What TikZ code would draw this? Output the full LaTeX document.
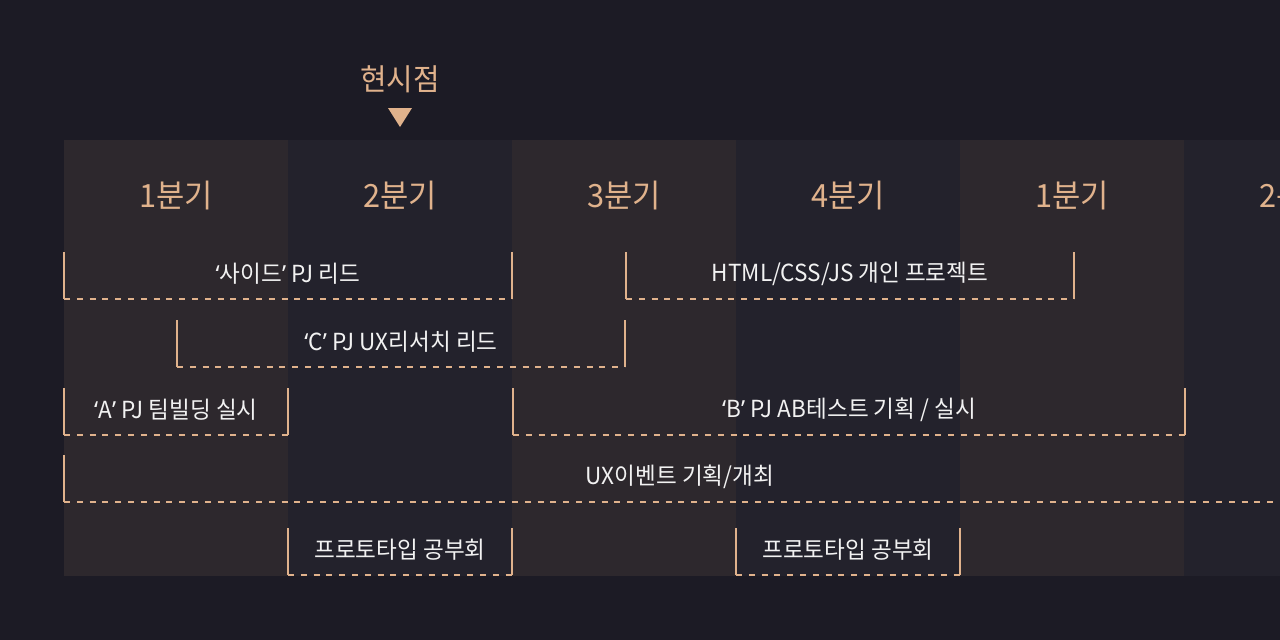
\documentclass[tikz,border=0pt]{standalone}
\usepackage{fontspec}
\newfontfamily\kr[FakeStretch=0.96]{Noto Sans CJK KR}
\newfontfamily\latq{Noto Sans}
\newcommand\oq{{\latq\char"2018}}
\newcommand\cq{{\latq\char"2019}}
\definecolor{bgc}{HTML}{1C1B25}
\definecolor{darkcol}{HTML}{23222C}
\definecolor{lightcol}{HTML}{2D282D}
\definecolor{peach}{HTML}{E0B28C}
\definecolor{txt}{HTML}{F2F2F2}
\tikzset{
  qlabel/.style={text=peach, inner sep=0pt, font=\kr\fontsize{32}{32}\selectfont},
  nowlabel/.style={text=peach, inner sep=0pt, font=\kr\fontsize{30}{30}\selectfont},
  barlabel/.style={text=txt, inner sep=0pt, font=\kr\fontsize{23.5}{24}\selectfont},
  solidedge/.style={draw=peach, line width=1.3pt},
  dashedge/.style={draw=peach, line width=1.3pt, dash pattern=on 6pt off 6.8pt},
}
\newcommand\barbox[6]{%
  \draw[solidedge] (#2,#4) -- (#2,#5);
  \draw[dashedge] (#2,#5) -- (#3,#5);
  \draw[solidedge] (#3,#4) -- (#3,#5);
  \node[barlabel] (#1) at ({(#2+#3)/2},{(#4+#5)/2-1.5}) {#6};
}
\begin{document}
\begin{tikzpicture}[x=1pt,y=-1pt]
\fill[bgc] (0,0) rectangle (1280,640);
\useasboundingbox (0,0) rectangle (1280,640);
% columns
\foreach \x in {64,512,960} \fill[lightcol] (\x,140) rectangle ++(224,436);
\foreach \x in {288,736,1184} \fill[darkcol] (\x,140) rectangle ++(224,436);
% now marker
\node[nowlabel] (now) at (400,79) {현시점};
\fill[peach] (388,108) -- (412,108) -- (400,127) -- cycle;
% quarter labels
\node[qlabel] (q1) at (176,196) {1분기};
\node[qlabel] (q2) at (400,196) {2분기};
\node[qlabel] (q3) at (624,196) {3분기};
\node[qlabel] (q4) at (848,196) {4분기};
\node[qlabel] (q5) at (1072,196) {1분기};
\node[qlabel] (q6) at (1296,196) {2분기};
% bars
\barbox{side}{64}{512}{252}{299}{\oq 사이드\cq{} PJ 리드}
\barbox{html}{626}{1074}{252}{299}{HTML/CSS/JS 개인 프로젝트}
\barbox{cpj}{177}{625}{320}{367}{\oq C\cq{} PJ UX리서치 리드}
\barbox{apj}{64}{288}{388}{435}{\oq A\cq{} PJ 팀빌딩 실시}
\barbox{bpj}{513}{1185}{388}{435}{\oq B\cq{} PJ AB테스트 기획 / 실시}
\draw[solidedge] (64,455) -- (64,502);
\draw[dashedge] (64,502) -- (1296,502);
\node[barlabel] (ux) at (680,477) {UX이벤트 기획/개최};
\barbox{proto1}{288}{512}{528}{575}{프로토타입 공부회}
\barbox{proto2}{736}{960}{528}{575}{프로토타입 공부회}
\end{tikzpicture}
\end{document}
